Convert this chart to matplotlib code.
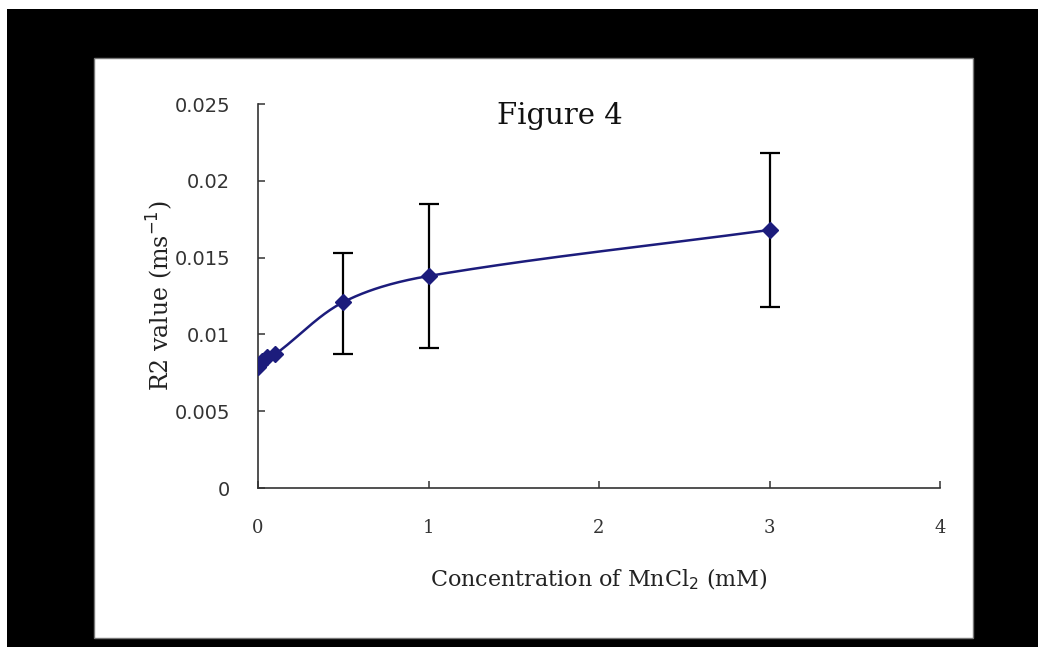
import matplotlib.pyplot as plt
import numpy as np
from matplotlib.patches import Rectangle

# Data
conc = [0, 0.01, 0.025, 0.05, 0.1, 0.5, 1, 3]          # mM
r2 = [0.0079, 0.0081, 0.0083, 0.0085, 0.0087, 0.0121, 0.0138, 0.0168]

err_conc = [0.5, 1, 3]
err_low = [0.0087, 0.0091, 0.0118]
err_high = [0.0153, 0.0185, 0.0218]

xticks = [0, 1, 2, 3, 4]
yticks = [0, 0.005, 0.01, 0.015, 0.02, 0.025]
ytick_labels = ["0", "0.005", "0.01", "0.015", "0.02", "0.025"]

W, H = 1038, 647
fig = plt.figure(figsize=(W / 100, H / 100), dpi=100, facecolor="white")

# black frame with white plot panel
fig.patches.append(Rectangle((7 / W, 0), 1 - 7 / W, 1 - 9 / H, transform=fig.transFigure,
                             facecolor="black", edgecolor="none", zorder=-2))
fig.patches.append(Rectangle((94 / W, 1 - 638 / H), (973 - 94) / W, (638 - 58) / H,
                             transform=fig.transFigure, facecolor="white",
                             edgecolor="#777777", linewidth=1, zorder=-1))

ax = fig.add_axes([258 / W, 1 - 488 / H, (940 - 258) / W, (488 - 104) / H])
ax.patch.set_visible(False)


# smooth line through the points, tangents scaled by chord length (screen proportions)
def smooth(xs, ys, sx, sy, n=40):
    P = np.column_stack([np.asarray(xs) * sx, np.asarray(ys) * sy])
    out = []
    for i in range(len(P) - 1):
        p0 = P[i - 1] if i > 0 else P[i]
        p1, p2 = P[i], P[i + 1]
        p3 = P[i + 2] if i + 2 < len(P) else P[i + 1]
        L = np.linalg.norm(p2 - p1)
        t1 = (p2 - p0) / (np.linalg.norm(p2 - p0) + 1e-12)
        t2 = (p3 - p1) / (np.linalg.norm(p3 - p1) + 1e-12)
        c1 = p1 + t1 * L / 3
        c2 = p2 - t2 * L / 3
        t = np.linspace(0, 1, n)[:, None]
        seg = (1 - t) ** 3 * p1 + 3 * (1 - t) ** 2 * t * c1 + 3 * (1 - t) * t ** 2 * c2 + t ** 3 * p2
        out.append(seg)
    out = np.vstack(out)
    return out[:, 0] / sx, out[:, 1] / sy


sx, sy = 682 / 4, 384 / 0.025
lx, ly = smooth(conc, r2, sx, sy)
navy = "#1c1c7c"
ax.plot(lx, ly, color=navy, lw=1.8, zorder=3)
ax.plot(conc, r2, ls="none", marker="D", ms=8.5, color=navy, zorder=4)

mid = np.array(r2)[[conc.index(c) for c in err_conc]]
ax.errorbar(err_conc, mid, yerr=[mid - np.array(err_low), np.array(err_high) - mid],
            fmt="none", ecolor="black", elinewidth=1.6, capsize=7, capthick=1.6, zorder=2)

ax.set_xlim(0, 4)
ax.set_ylim(0, 0.025)
ax.set_xticks(xticks)
ax.set_xticklabels([str(t) for t in xticks], family="DejaVu Serif", fontsize=13)
ax.set_yticks(yticks)
ax.set_yticklabels(ytick_labels, family="DejaVu Sans", fontsize=14, color="#222222")

for s in ["top", "right"]:
    ax.spines[s].set_visible(False)
for s in ["left", "bottom"]:
    ax.spines[s].set_color("#333333")
    ax.spines[s].set_linewidth(1.2)
ax.tick_params(axis="x", direction="in", length=5, width=1.1, pad=22, colors="#333333")
ax.tick_params(axis="y", direction="in", length=5, width=1.1, pad=20, colors="#333333")

ax.set_xlabel("Concentration of MnCl$_2$ (mM)", family="DejaVu Serif", fontsize=16,
              color="#222222", labelpad=22)
ax.set_ylabel("R2 value (ms$^{-1}$)", family="DejaVu Serif", fontsize=17,
              color="#222222", labelpad=0)

fig.text(560 / W, 1 - 116 / H, "Figure 4", family="DejaVu Serif", fontsize=21,
         ha="center", va="center", color="#111111")

fig.savefig("out.png", dpi=100, facecolor=fig.get_facecolor())
